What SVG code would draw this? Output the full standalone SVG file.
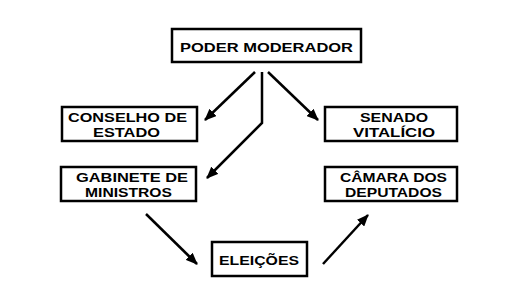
<svg xmlns="http://www.w3.org/2000/svg" width="505" height="293" viewBox="0 0 505 293">
<style>
.box{fill:#fff;stroke:#000;stroke-width:2.5}
.t{font-family:"Liberation Sans",Arial,sans-serif;font-weight:bold;font-size:13px;fill:#000}
.c{fill:none;stroke:#000;stroke-width:2.5}
</style>
<defs>
<marker id="ah" viewBox="0 0 12 10" refX="11" refY="5" markerWidth="12" markerHeight="10" markerUnits="userSpaceOnUse" orient="auto">
<path d="M0,0 L12,5 L0,10 Z" fill="#000"/>
</marker>
</defs>
<rect width="505" height="293" fill="#fff"/>
<g id="poder">
<rect class="box" x="172" y="29" width="189" height="33"/>
<text class="t" x="180" y="52" textLength="173" lengthAdjust="spacingAndGlyphs" font-size="16">PODER MODERADOR</text>
</g>
<g id="conselho">
<rect class="box" x="62" y="107" width="135" height="34"/>
<text class="t" x="68" y="122" textLength="119" lengthAdjust="spacingAndGlyphs">CONSELHO DE</text>
<text class="t" x="93" y="137" textLength="67" lengthAdjust="spacingAndGlyphs">ESTADO</text>
</g>
<g id="gabinete">
<rect class="box" x="61" y="167" width="135" height="34"/>
<text class="t" x="76" y="182" textLength="112" lengthAdjust="spacingAndGlyphs">GABINETE DE</text>
<text class="t" x="85" y="197" textLength="87" lengthAdjust="spacingAndGlyphs">MINISTROS</text>
</g>
<g id="senado">
<rect class="box" x="325" y="107" width="132" height="34"/>
<text class="t" x="360" y="122" textLength="68" lengthAdjust="spacingAndGlyphs">SENADO</text>
<text class="t" x="353" y="137" textLength="82" lengthAdjust="spacingAndGlyphs">VITALÍCIO</text>
</g>
<g id="camara">
<rect class="box" x="325" y="167" width="132" height="34"/>
<text class="t" x="340" y="182" textLength="107" lengthAdjust="spacingAndGlyphs">CÂMARA DOS</text>
<text class="t" x="345" y="197" textLength="97" lengthAdjust="spacingAndGlyphs">DEPUTADOS</text>
</g>
<g id="eleicoes">
<rect class="box" x="212" y="242" width="95" height="34"/>
<text class="t" x="219" y="265" textLength="80" lengthAdjust="spacingAndGlyphs" font-size="15">ELEIÇÕES</text>
</g>
<g id="connectors">
<path class="c" d="M255,72 L205,120" marker-end="url(#ah)"/>
<path class="c" d="M262,72 L262,123 L207,178" marker-end="url(#ah)"/>
<path class="c" d="M268,72 L318,120" marker-end="url(#ah)"/>
<path class="c" d="M146,214 L197,264" marker-end="url(#ah)"/>
<path class="c" d="M323,264 L368,215" marker-end="url(#ah)"/>
</g>
</svg>
